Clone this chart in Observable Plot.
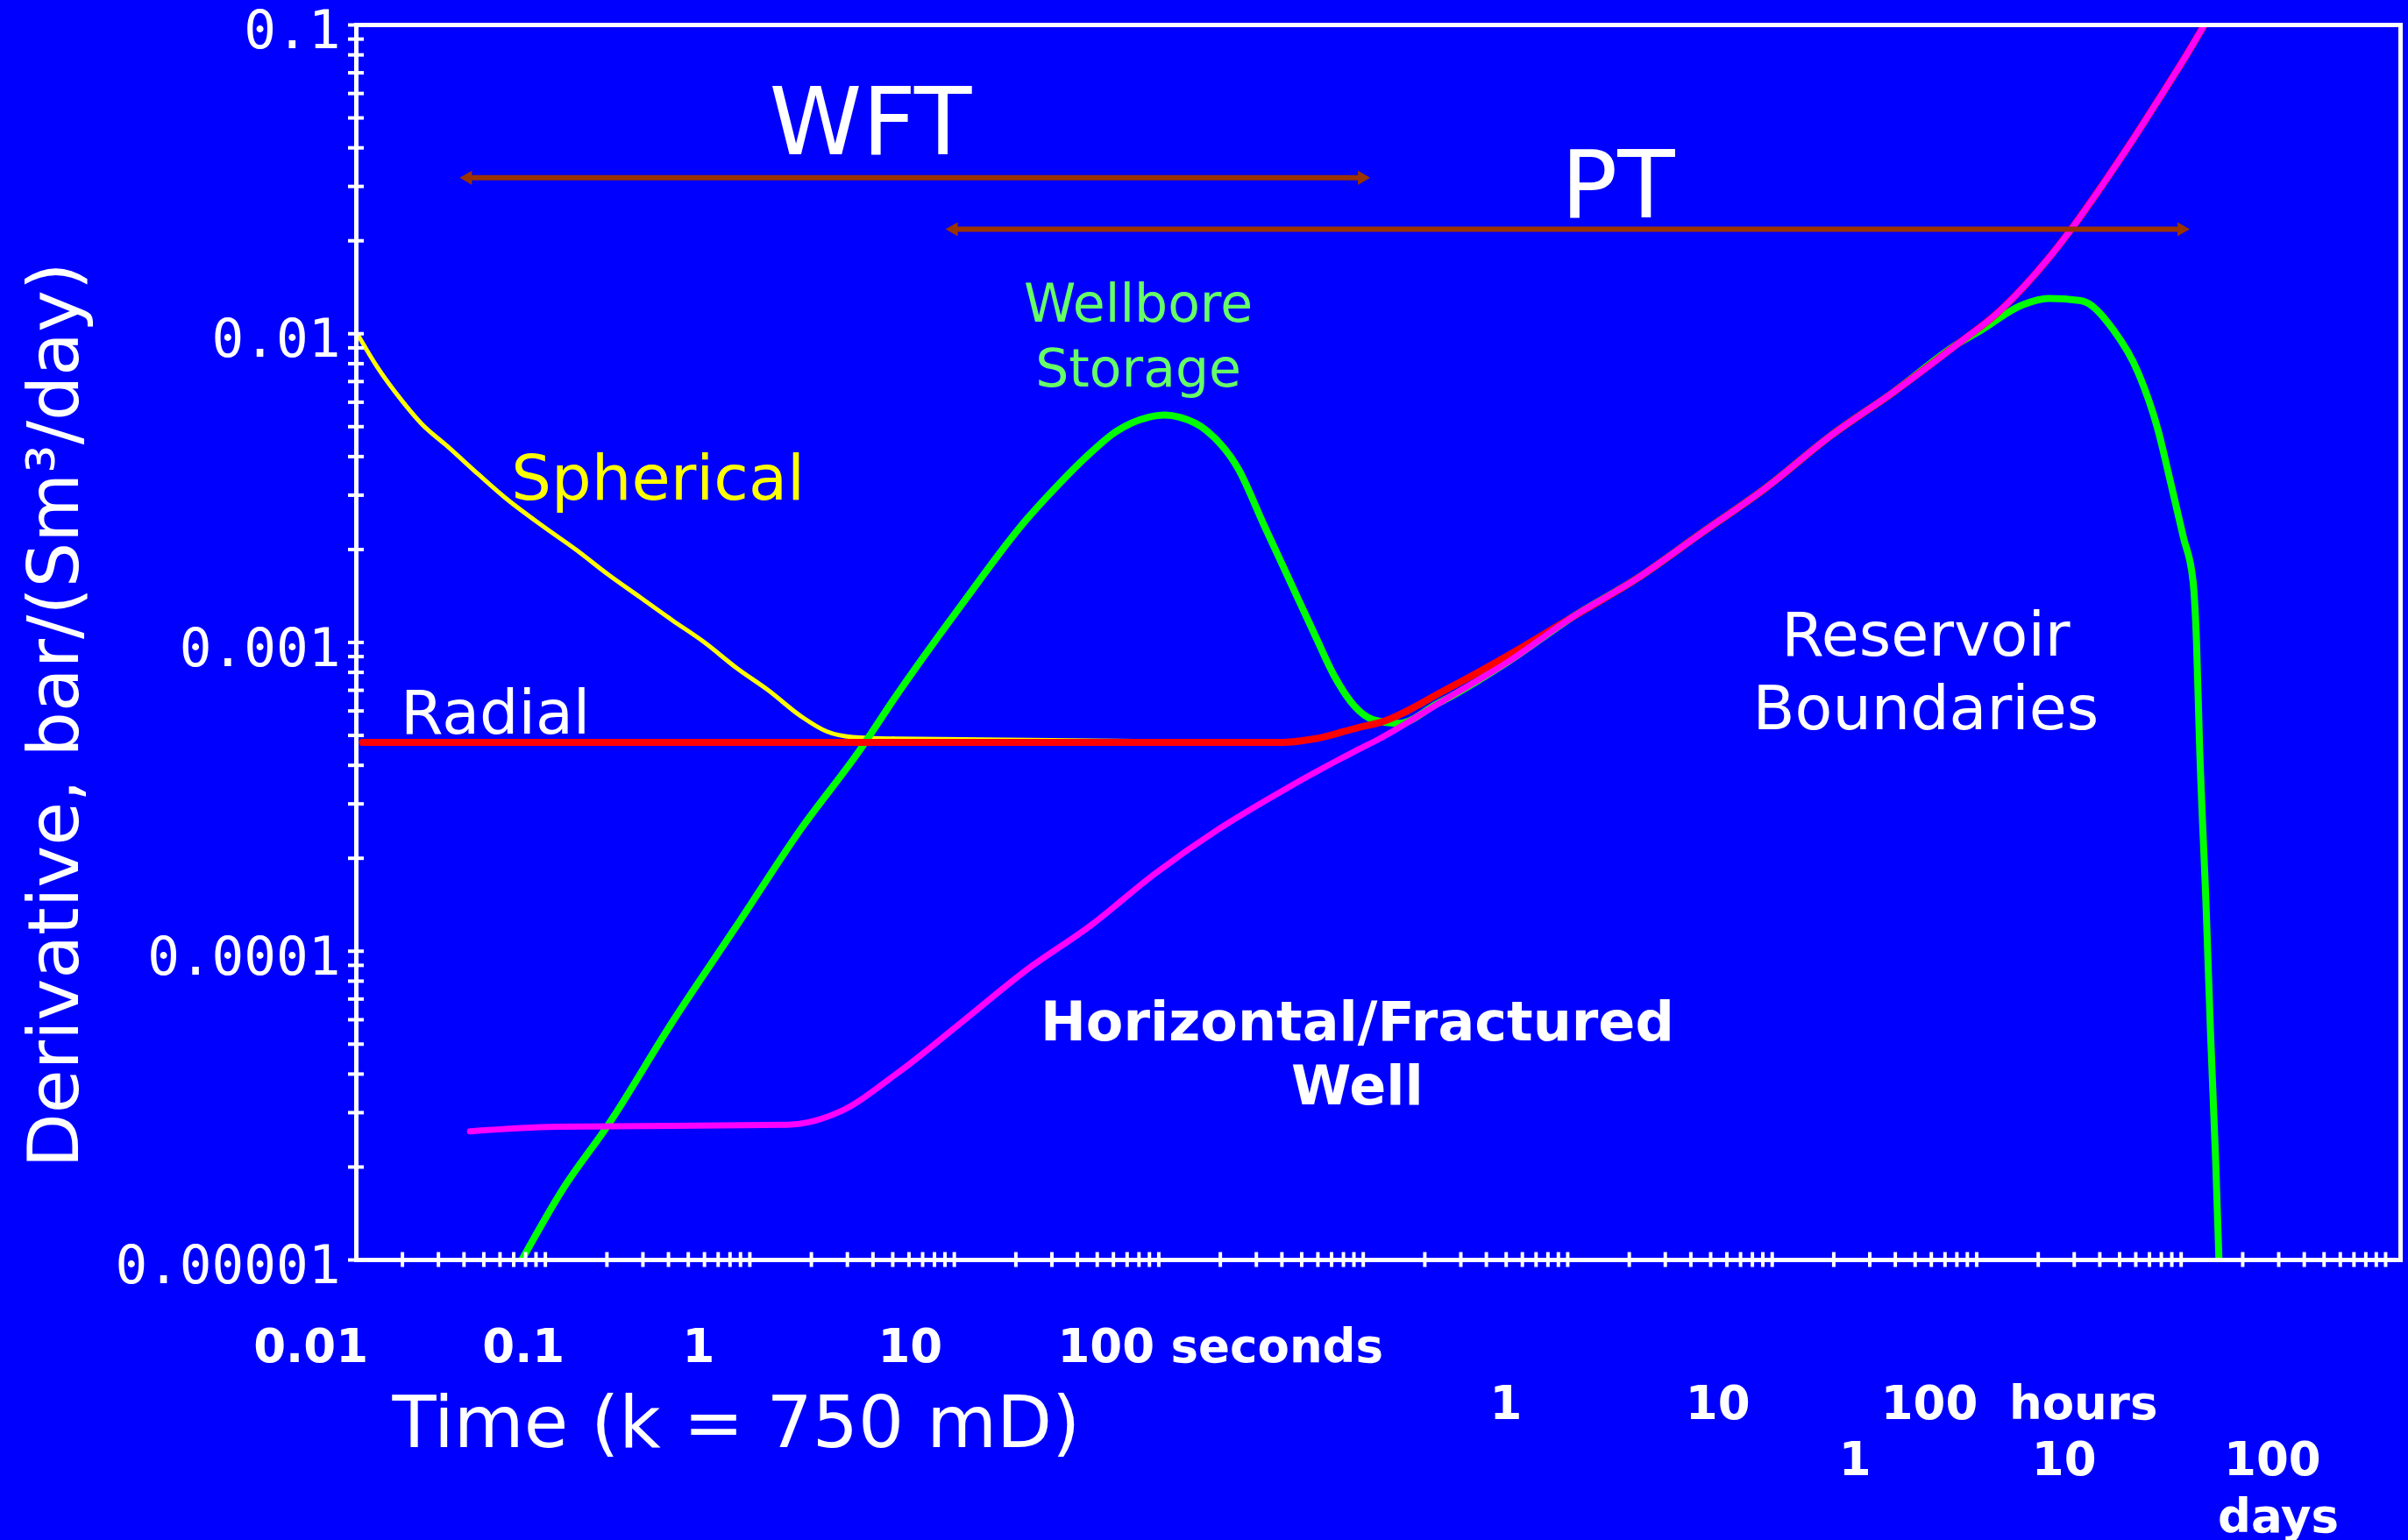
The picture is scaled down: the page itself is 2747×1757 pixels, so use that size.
<!DOCTYPE html>
<html>
<head>
<meta charset="utf-8">
<script src="https://cdn.jsdelivr.net/npm/d3@7"></script>
<script src="https://cdn.jsdelivr.net/npm/@observablehq/plot@0.6"></script>
<style>
  html, body { margin: 0; padding: 0; background: #0000ff; overflow: hidden; }
  #chart svg { display: block; }
</style>
</head>
<body>
<div id="chart"></div>
<script>
// ---------- data: [time (s), derivative bar/(Sm3/day)] ----------
const sphericalPts = [
  [0.01202, 0.0100], [0.01493, 7.87e-3], [0.0200, 6.04e-3], [0.0248, 5.11e-3],
  [0.0332, 4.32e-3], [0.0476, 3.48e-3], [0.0637, 2.94e-3], [0.0982, 2.37e-3],
  [0.141, 2.00e-3], [0.203, 1.66e-3], [0.291, 1.40e-3], [0.418, 1.18e-3],
  [0.601, 1.00e-3], [0.863, 8.26e-4], [1.239, 6.98e-4], [1.778, 5.77e-4],
  [2.377, 5.15e-4], [3.177, 4.94e-4], [5.27, 4.88e-4]
];
const radialPts = [
  [0.01274, 4.75e-4], [406, 4.75e-4], [583, 4.88e-4], [955, 5.31e-4],
  [1202, 5.50e-4], [2483, 6.98e-4], [5117, 9.08e-4]
];
const fracturedPts = [
  [0.0428, 2.61e-5], [0.1135, 2.70e-5], [1.54, 2.74e-5], [2.75, 3.02e-5],
  [5.27, 4.03e-5], [10.9, 5.90e-5], [22.4, 8.67e-5], [46.3, 1.21e-4],
  [95.5, 1.78e-4], [197, 2.49e-4], [406, 3.32e-4], [583, 3.80e-4],
  [902, 4.43e-4], [1202, 4.88e-4], [2483, 6.50e-4], [5117, 8.67e-4],
  [1.057e4, 1.21e-3], [2.178e4, 1.61e-3], [4.50e4, 2.26e-3], [9.27e4, 3.16e-3],
  [1.914e5, 4.65e-3], [3.945e5, 6.49e-3], [8.15e5, 9.31e-3], [1.268e6, 1.17e-2],
  [2.158e6, 1.70e-2], [2.972e6, 2.23e-2], [4.09e6, 3.01e-2], [5.64e6, 4.13e-2],
  [7.76e6, 5.74e-2], [1.069e7, 8.05e-2], [1.297e7, 0.100]
];
const storageEarlyPts = [
  [0.0767, 1.0e-5], [0.122, 1.70e-5], [0.203, 2.74e-5], [0.418, 5.90e-5],
  [0.863, 1.21e-4], [1.778, 2.49e-4], [3.41, 4.43e-4], [5.27, 6.81e-4],
  [10.9, 1.33e-3], [22.4, 2.49e-3], [32.2, 3.24e-3], [46.3, 4.11e-3],
  [61.8, 4.82e-3], [88.9, 5.36e-3], [107, 5.45e-3], [127, 5.36e-3], [171, 4.86e-3],
  [245, 3.65e-3], [327, 2.40e-3], [438, 1.58e-3], [583, 1.05e-3],
  [724, 7.76e-4], [902, 6.24e-4], [1119, 5.62e-4], [1496, 5.47e-4], [2307, 6.34e-4]
];
const storageLatePts = [
  [1.023e6, 1.016e-2], [1.679e6, 1.24e-2], [2.244e6, 1.30e-2], [3.228e6, 1.28e-2],
  [4.63e6, 1.035e-2], [6.18e6, 7.45e-3], [7.69e6, 4.90e-3], [8.87e6, 3.31e-3],
  [1.026e7, 2.19e-3], [1.143e7, 1.58e-3], [1.189e7, 1.0e-3], [1.23e7, 4.68e-4],
  [1.324e7, 1.40e-4], [1.393e7, 5.37e-5], [1.476e7, 2.06e-5], [1.531e7, 1.0e-5]
];

// test ranges (double arrows)
const rangeNames = ["WFT", "PT"];
const rangeFrom = [0.0418, 9.93];
const rangeTo = [986, 1.005e7];
const rangeLevel = [0.0320, 0.0218];

// tick labels (positions in seconds)
const yTickValues = [0.1, 0.01, 0.001, 0.0001, 0.00001];
const yTickLabels = ["0.1", "0.01", "0.001", "0.0001", "0.00001"];
const secondsLabels = ["0.01", "0.1", "1", "10", "100 seconds"];
const secondsAt = [0.00374, 0.0492, 0.468, 4.23, 32.0];
const hoursLabels = ["1", "10", "100", "hours"];
const hoursAt = [4160, 3.77e4, 3.40e5, 1.44e6];
const daysLabels = ["1", "10", "100"];
const daysAt = [2.12e5, 1.86e6, 1.62e7];
const daysUnit = ["days"];
const daysUnitAt = [1.51e7];

// annotation anchors [time, derivative]
const annWFT = [3.89, 0.0381];
const annPT = [1.758e4, 0.0238];
const annStorage = [79.4, 6.75e-3];
const annSpherical = [0.0682, 2.90e-3];
const annRadial = [0.0196, 5.06e-4];
const annBoundaries = [5.64e5, 5.22e-4];
const annFractured = [935, 3.19e-5];

// ---------- build ----------
const toObj = (arr) => arr.map(([t, d]) => ({t, d}));
const radialAll = radialPts.concat(fracturedPts.filter(p => p[0] > 6000));
const sphericalAll = sphericalPts.concat(radialAll.filter(p => p[0] > 5.3));
const storageAll = storageEarlyPts
  .concat(fracturedPts.filter(p => p[0] > 2400 && p[0] < 1.0e6))
  .concat(storageLatePts);

const xTicks = [];
for (let e = -2; e <= 8; e++) for (let k = 1; k <= 9; k++) {
  const v = k * Math.pow(10, e);
  if (v >= 0.0119 && v <= 1.18e8) xTicks.push(v);
}
const yTicks = [];
for (let e = -5; e <= -1; e++) for (let k = 1; k <= 9; k++) {
  const v = k * Math.pow(10, e);
  if (v >= 1e-5 * 0.999 && v <= 0.1 * 1.001) yTicks.push(v);
}

const ranges = rangeNames.map((n, i) => ({n, from: rangeFrom[i], to: rangeTo[i], y: rangeLevel[i]}));
const arrowColor = "#993300";
const ann = (p, text) => [{t: p[0], d: p[1], text}];
const labelRow = (labels, at) => labels.map((text, i) => ({text, t: at[i]}));

const chart = Plot.plot({
  width: 2747,
  height: 1757,
  marginLeft: 406,
  marginRight: 9,
  marginTop: 28,
  marginBottom: 320,
  x: {type: "log", domain: [0.0119, 1.183e8], axis: null},
  y: {type: "log", domain: [1e-5, 0.1], axis: null},
  style: {background: "#0000ff", color: "white", fontFamily: "DejaVu Sans", overflow: "visible"},
  marks: [
    // curves
    Plot.line(toObj(sphericalAll), {x: "t", y: "d", stroke: "#ffff00", strokeWidth: 5, curve: "monotone-x", clip: true}),
    Plot.line(toObj(storageAll), {x: "t", y: "d", stroke: "#00ff00", strokeWidth: 8, curve: "monotone-x", clip: true}),
    Plot.line(toObj(radialAll), {x: "t", y: "d", stroke: "#ff0000", strokeWidth: 8, curve: "monotone-x", clip: true}),
    Plot.line(toObj(fracturedPts), {x: "t", y: "d", stroke: "#ff00ff", strokeWidth: 7, curve: "monotone-x", clip: true}),

    // frame and ticks
    Plot.frame({stroke: "white", strokeWidth: 5}),
    Plot.axisX({ticks: xTicks, tickSize: 17, dy: -8.5, stroke: "white", strokeWidth: 4, fill: "none", label: null}),
    Plot.axisY({ticks: yTicks, tickSize: 18, dx: 9, stroke: "white", strokeWidth: 4, fill: "none", label: null}),

    // y tick labels
    Plot.text(yTickValues.map((v, i) => ({v, text: yTickLabels[i]})), {
      y: "v", text: "text", frameAnchor: "left", textAnchor: "end", dx: -18, dy: 7,
      fontSize: 61, fontFamily: "DejaVu Sans Mono", fill: "white"
    }),

    // x tick label rows
    Plot.text(labelRow(secondsLabels, secondsAt), {x: "t", text: "text", frameAnchor: "bottom", dy: 116,
      textAnchor: "start", lineAnchor: "bottom", fontSize: 53, fontWeight: "bold", fill: "white"}),
    Plot.text(labelRow(hoursLabels, hoursAt), {x: "t", text: "text", frameAnchor: "bottom", dy: 181,
      textAnchor: "start", lineAnchor: "bottom", fontSize: 53, fontWeight: "bold", fill: "white"}),
    Plot.text(labelRow(daysLabels, daysAt), {x: "t", text: "text", frameAnchor: "bottom", dy: 245,
      textAnchor: "start", lineAnchor: "bottom", fontSize: 53, fontWeight: "bold", fill: "white"}),
    Plot.text(labelRow(daysUnit, daysUnitAt), {x: "t", text: "text", frameAnchor: "bottom", dy: 310,
      textAnchor: "start", lineAnchor: "bottom", fontSize: 53, fontWeight: "bold", fill: "white"}),

    // axis titles
    Plot.text(["Time (k = 750 mD)"], {frameAnchor: "bottom-left", dx: 41, dy: 213, textAnchor: "start",
      lineAnchor: "bottom", fontSize: 82, fill: "white"}),
    Plot.text(["Derivative, bar/(Sm³/day)"], {frameAnchor: "left", dx: -318, dy: 83, rotate: -90,
      textAnchor: "middle", lineAnchor: "bottom", fontSize: 81, fill: "white"}),

    // test range arrows
    Plot.link(ranges, {x1: "from", x2: "to", y1: "y", y2: "y", stroke: arrowColor, strokeWidth: 6}),
    Plot.dot(ranges, {x: "to", y: "y", symbol: "triangle", r: 6, rotate: 90, fill: arrowColor, stroke: "none"}),
    Plot.dot(ranges, {x: "from", y: "y", symbol: "triangle", r: 6, rotate: -90, fill: arrowColor, stroke: "none"}),

    // annotations
    Plot.text(ann(annWFT, "WFT"), {x: "t", y: "d", text: "text", textAnchor: "middle", lineAnchor: "bottom", fontSize: 107, fill: "white"}),
    Plot.text(ann(annPT, "PT"), {x: "t", y: "d", text: "text", textAnchor: "middle", lineAnchor: "bottom", fontSize: 107, fill: "white"}),
    Plot.text(ann(annStorage, "Wellbore\nStorage"), {x: "t", y: "d", text: "text", textAnchor: "middle", lineAnchor: "bottom", lineHeight: 1.233, fontSize: 60, fill: "#66ff66"}),
    Plot.text(ann(annSpherical, "Spherical"), {x: "t", y: "d", text: "text", textAnchor: "start", lineAnchor: "bottom", fontSize: 72, fill: "#ffff00"}),
    Plot.text(ann(annRadial, "Radial"), {x: "t", y: "d", text: "text", textAnchor: "start", lineAnchor: "bottom", fontSize: 70, fill: "white"}),
    Plot.text(ann(annBoundaries, "Reservoir\nBoundaries"), {x: "t", y: "d", text: "text", textAnchor: "middle", lineAnchor: "bottom", lineHeight: 1.2, fontSize: 70, fill: "white"}),
    Plot.text(ann(annFractured, "Horizontal/Fractured\nWell"), {x: "t", y: "d", text: "text", textAnchor: "middle", lineAnchor: "bottom", lineHeight: 1.171, fontSize: 62, fontWeight: "bold", fill: "white"})
  ]
});
document.getElementById("chart").appendChild(chart);
</script>
</body>
</html>
